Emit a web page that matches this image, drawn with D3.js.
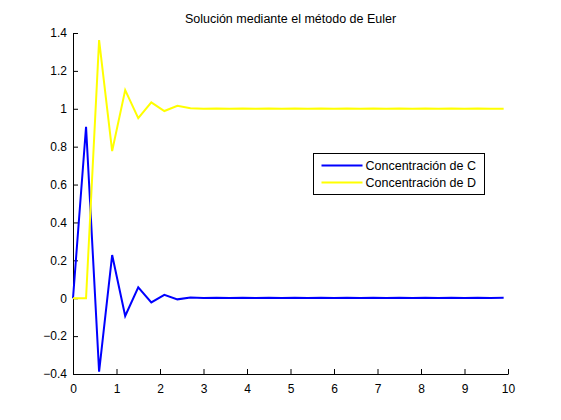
<!DOCTYPE html>
<html>
<head>
<meta charset="utf-8">
<script src="https://cdn.jsdelivr.net/npm/d3@7/dist/d3.min.js"></script>
<style>
  body { margin: 0; background: #fff; }
  text { font-family: "Liberation Sans", Arial, sans-serif; }
</style>
</head>
<body>
<div id="chart"></div>
<script>
// time steps (Euler, h = 0.3)
var tValues = [0, 0.3, 0.6, 0.9, 1.2, 1.5, 1.8, 2.1, 2.4, 2.7, 3.0, 3.3, 3.6, 3.9, 4.2, 4.5, 4.8,
               5.1, 5.4, 5.7, 6.0, 6.3, 6.6, 6.9, 7.2, 7.5, 7.8, 8.1, 8.4, 8.7, 9.0, 9.3, 9.6, 9.9];

var concC = [0, 0.905, -0.388, 0.228, -0.094, 0.057, -0.022, 0.018, -0.006, 0.004, 0.001, 0.002, 0.001, 0.002, 0.001, 0.002, 0.001,
             0.002, 0.001, 0.002, 0.001, 0.002, 0.001, 0.002, 0.001, 0.002, 0.001, 0.002, 0.001, 0.002, 0.001, 0.002, 0.001, 0.002];

var concD = [0, 0, 1.363, 0.777, 1.099, 0.95, 1.034, 0.988, 1.016, 1.003, 1.0, 1.001, 1.0, 1.001, 1.0, 1.001, 1.0,
             1.001, 1.0, 1.001, 1.0, 1.001, 1.0, 1.001, 1.0, 1.001, 1.0, 1.001, 1.0, 1.001, 1.0, 1.001, 1.0, 1.0];

var xTicks = [0, 1, 2, 3, 4, 5, 6, 7, 8, 9, 10];
var yTicks = [-0.4, -0.2, 0, 0.2, 0.4, 0.6, 0.8, 1, 1.2, 1.4];

var seriesNames = ["Concentración de C", "Concentración de D"];
var seriesColors = ["#0000ff", "#ffff00"];

var svgWidth = 561;
var svgHeight = 420;

var margin = {top: 33, right: 53, bottom: 46, left: 73};
var width = svgWidth - margin.left - margin.right;
var height = svgHeight - margin.top - margin.bottom;

var svg = d3.select("#chart")
          .append("svg")
          .attr("width", svgWidth)
          .attr("height", svgHeight);

var g = svg.append("g")
          .attr("transform", `translate(${margin.left}, ${margin.top})`);

var xScale = d3.scaleLinear().domain([0, 10]).range([0, width]);
var yScale = d3.scaleLinear().domain([-0.4, 1.4]).range([height, 0]);

// axes, matlab style: ticks pointing inwards, no box
var xAxis = d3.axisBottom(xScale).tickValues(xTicks).tickSizeInner(-5).tickSizeOuter(0).tickPadding(10);
var yAxis = d3.axisLeft(yScale).tickValues(yTicks).tickSizeInner(-5).tickSizeOuter(0).tickPadding(6)
              .tickFormat(d => d3.format("")(Math.round(d * 10) / 10));

g.append("g")
  .attr("transform", `translate(0, ${height})`)
  .call(xAxis)
  .call(a => a.select(".domain").attr("stroke", "#000"))
  .selectAll("text")
  .attr("font-size", 12)
  .attr("fill", "#000");

g.append("g")
  .call(yAxis)
  .call(a => a.select(".domain").attr("stroke", "#000"))
  .selectAll("text")
  .attr("font-size", 12)
  .attr("fill", "#000");

var line = d3.line()
  .x((d, i) => xScale(tValues[i]))
  .y(d => yScale(d));

[concC, concD].forEach(function(values, k) {
    g.append("path")
      .datum(values)
      .attr("fill", "none")
      .attr("stroke", seriesColors[k])
      .attr("stroke-width", 2)
      .attr("stroke-linejoin", "miter")
      .attr("d", line);
});

// title
svg.append("text")
  .attr("x", margin.left + width / 2)
  .attr("y", 23)
  .attr("text-anchor", "middle")
  .attr("font-size", 12.5)
  .text("Solución mediante el método de Euler");

// legend
var legend = svg.append("g").attr("transform", "translate(313.5, 153.5)");
legend.append("rect")
  .attr("width", 171)
  .attr("height", 41)
  .attr("fill", "#fff")
  .attr("stroke", "#000");

seriesNames.forEach(function(name, k) {
    var yy = 12 + k * 17;
    legend.append("line")
      .attr("x1", 8).attr("x2", 49)
      .attr("y1", yy).attr("y2", yy)
      .attr("stroke", seriesColors[k])
      .attr("stroke-width", 2);
    legend.append("text")
      .attr("x", 52)
      .attr("y", yy + 4.5)
      .attr("font-size", 12.5)
      .text(name);
});
</script>
</body>
</html>
